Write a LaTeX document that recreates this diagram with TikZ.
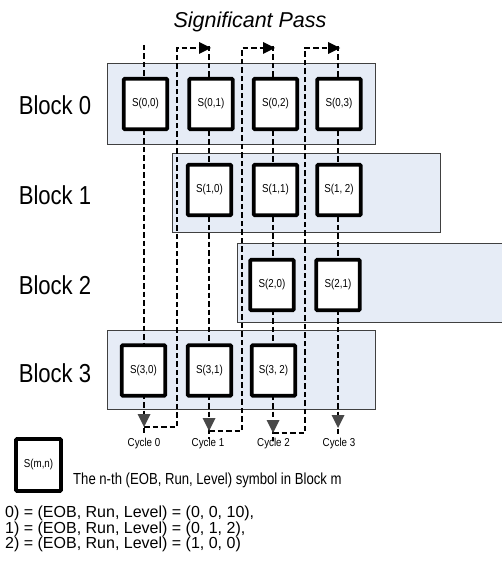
\documentclass[tikz,border=0pt]{standalone}
\usepackage{fontspec}
\setmainfont{Liberation Sans}
\newfontfamily\nar{Liberation Sans}[FakeStretch=0.85]
\newfontfamily\narr{Liberation Sans}[FakeStretch=0.82]
\usetikzlibrary{arrows.meta}
\definecolor{blockfill}{RGB}{230,236,246}
\definecolor{arrowgray}{RGB}{72,72,72}
\begin{document}
\begin{tikzpicture}[x=1pt,y=-1pt,
  blockbox/.style={draw=black!75, fill=blockfill, line width=0.9pt},
  sym/.style={draw=black, fill=white, line width=3.6pt, minimum width=43.5pt,
    minimum height=50.5pt, rounded corners=1pt, inner sep=0pt,
    font=\nar\fontsize{11.5}{12}\selectfont},
  blabel/.style={font=\nar\fontsize{26}{28}\selectfont},
  clabel/.style={font=\nar\fontsize{11.5}{12}\selectfont, anchor=base},
  flow/.style={draw=black, line width=1.8pt, dash pattern=on 5.5pt off 3pt},
  downhead/.style={fill=arrowgray},
  righthead/.style={fill=black},
  eqline/.style={anchor=base west, font=\fontsize{16}{17}\selectfont, inner sep=0pt}
]
\useasboundingbox (0,0) rectangle (502,561);

% title
\node[font=\itshape\fontsize{21.5}{23}\selectfont] (title) at (250,22) {Significant Pass};

% blocks
\draw[blockbox] (107,63) rectangle (375,144);
\draw[blockbox] (172,153) rectangle (440,232);
\draw[blockbox] (237,243) rectangle (503,322);
\draw[blockbox] (107,330) rectangle (375,409);

% block labels
\node[blabel] (bl0) at (55,105) {Block 0};
\node[blabel] (bl1) at (55,195) {Block 1};
\node[blabel] (bl2) at (55,285) {Block 2};
\node[blabel] (bl3) at (55,373) {Block 3};

% flow coordinates
\coordinate (t0) at (144,45);  \coordinate (e0) at (144,427);
\coordinate (t1) at (209,46);  \coordinate (e1) at (209,431);
\coordinate (t2) at (273,46);  \coordinate (e2) at (273,433);
\coordinate (t3) at (338,46);  \coordinate (e3) at (338,428);
\coordinate (h0) at (211,48);  \coordinate (h1) at (275,48);  \coordinate (h2) at (340,48);

% column flows (down)
\draw[flow] (t0) -- ([yshift=-8pt]e0);
\draw[flow] (t1) -- ([yshift=-8pt]e1);
\draw[flow] (t2) -- ([yshift=-8pt]e2);
\draw[flow] (t3) -- ([yshift=-8pt]e3);

% return flows
\draw[flow] (e0) -- (177,427) -- (177,48) -- ([xshift=-8pt]h0);
\draw[flow] (e1) -- (242,431) -- (242,48) -- ([xshift=-8pt]h1);
\draw[flow] (e2) -- (305,433) -- (305,48) -- ([xshift=-8pt]h2);

% arrow heads
\foreach \p in {e0,e1,e2,e3}
  \fill[downhead, shift={(\p)}] (0,0) -- (-6.5,-13) -- (6.5,-13) -- cycle;
\foreach \p in {h0,h1,h2}
  \fill[righthead, shift={(\p)}] (0,0) -- (-12,-6) -- (-12,6) -- cycle;

% symbols
\node[sym] (s00) at (145.5,104) {S(0,0)};
\node[sym] (s01) at (211,104) {S(0,1)};
\node[sym] (s02) at (275.5,104) {S(0,2)};
\node[sym] (s03) at (339,104) {S(0,3)};

\node[sym] (s10) at (209.5,190) {S(1,0)};
\node[sym] (s11) at (275.5,190) {S(1,1)};
\node[sym] (s12) at (339,190) {S(1, 2)};

\node[sym] (s20) at (272,285) {S(2,0)};
\node[sym] (s21) at (338,285) {S(2,1)};

\node[sym] (s30) at (143.5,370.5) {S(3,0)};
\node[sym] (s31) at (209.5,370.5) {S(3,1)};
\node[sym] (s32) at (273.5,370.5) {S(3, 2)};

% cycle labels
\node[clabel] (c0) at (144,446) {Cycle 0};
\node[clabel] (c1) at (208,446) {Cycle 1};
\node[clabel] (c2) at (273.5,446) {Cycle 2};
\node[clabel] (c3) at (339,446) {Cycle 3};

% legend
\node[sym, minimum width=45pt, minimum height=52pt] (leg) at (38.5,465) {S(m,n)};
\node[anchor=base west, inner sep=0pt, font=\narr\fontsize{16}{17}\selectfont] (legtext) at (73,484)
  {The n-th (EOB, Run, Level) symbol in Block m};

% equations
\node[eqline] (q0) at (5,517) {0) = (EOB, Run, Level) = (0, 0, 10),};
\node[eqline] (q1) at (5,533) {1) = (EOB, Run, Level) = (0, 1, 2),};
\node[eqline] (q2) at (5,548) {2) = (EOB, Run, Level) = (1, 0, 0)};
\end{tikzpicture}
\end{document}
